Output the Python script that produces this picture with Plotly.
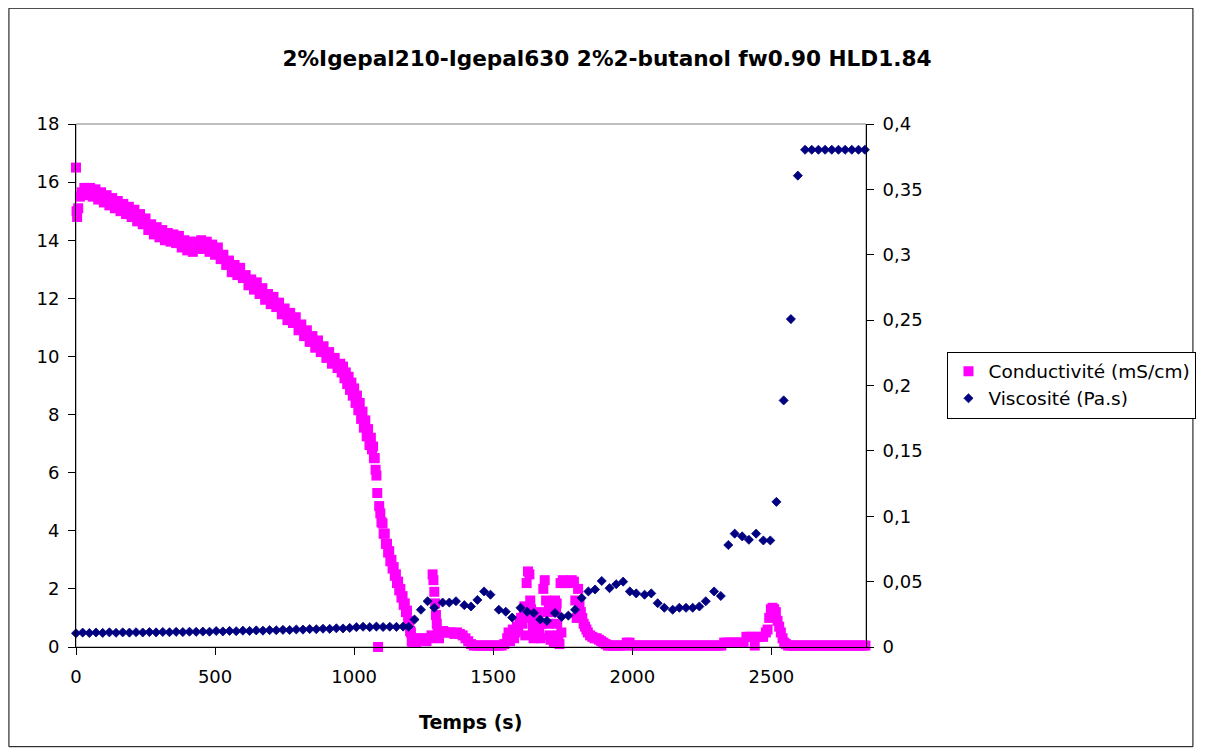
import plotly.graph_objects as go

# ---------------- data ----------------
title_text = "2%Igepal210-Igepal630 2%2-butanol fw0.90 HLD1.84"
x_title = "Temps (s)"
cond_name = "Conductivité (mS/cm)"
visc_name = "Viscosité (Pa.s)"

x_tickvals = [0, 500, 1000, 1500, 2000, 2500]
y_tickvals = [0, 2, 4, 6, 8, 10, 12, 14, 16, 18]
y2_tickvals = [0, 0.05, 0.1, 0.15, 0.2, 0.25, 0.3, 0.35, 0.4]
y2_ticktext = ["0", "0,05", "0,1", "0,15", "0,2", "0,25", "0,3", "0,35", "0,4"]

# Conductivity (mS/cm) vs time (s)
cond_t = [
    0, 2, 4, 8, 14, 20,
    30, 40, 50, 60, 70, 80, 90, 100, 110, 120, 130, 140, 150, 160, 170, 180, 190, 200,
    210, 220, 230, 240, 250, 260, 270, 280, 290, 300, 310, 320, 330, 340, 350, 360,
    370, 380, 390, 400, 410, 420, 430, 440, 450, 460, 470, 480, 490, 500, 510, 520,
    530, 540, 550, 560, 570, 580, 590, 600, 610, 620, 630, 640, 650, 660, 670, 680,
    690, 700, 710, 720, 730, 740, 750, 760, 770, 780, 790, 800, 810, 820, 830, 840,
    850, 860, 870, 880, 890, 900, 910, 920, 930, 940,
    950, 955, 960, 965, 970, 975, 980, 985, 990, 995, 1000, 1005, 1010, 1015, 1020, 1025,
    1030, 1035, 1040, 1045, 1050, 1055, 1060, 1064, 1068, 1071, 1074, 1077, 1080, 1083,
    1086, 1090, 1094, 1098, 1102, 1106, 1110, 1114, 1118, 1122, 1126, 1130, 1134, 1138,
    1142, 1146, 1150, 1154, 1158, 1162, 1166, 1170, 1174, 1178, 1182, 1186, 1190, 1194,
    1198, 1201, 1204, 1207, 1210, 1216, 1224, 1232, 1240, 1250,
    1260, 1270, 1278, 1282, 1285, 1288, 1291, 1294, 1297, 1300, 1305, 1310, 1320, 1330,
    1340, 1350, 1360, 1370, 1380, 1390, 1400, 1410, 1420, 1430, 1440, 1450, 1460, 1470,
    1480, 1490, 1500, 1510, 1520, 1530, 1540, 1550, 1555, 1560, 1565, 1570, 1575, 1580,
    1585, 1590, 1595, 1600, 1605, 1610, 1612, 1615, 1620, 1625, 1630, 1633, 1636, 1639, 1642,
    1645, 1648, 1650, 1655, 1660, 1665, 1670, 1675, 1680, 1685, 1690, 1694, 1698, 1700, 1702, 1706,
    1712, 1718, 1722, 1726, 1728, 1730, 1734, 1738, 1742, 1745, 1750, 1758, 1766, 1774, 1782,
    1790, 1795, 1800, 1805, 1810, 1815, 1820, 1825, 1830, 1835, 1840, 1848, 1856, 1864,
    1872, 1880, 1888, 1896, 1904, 1912, 1920, 1930, 1940, 1950, 1960, 1970, 1980, 1990,
    2000, 2010, 2020, 2030, 2040, 2050, 2060, 2070, 2080, 2090, 2100, 2110, 2120, 2130,
    2140, 2150, 2160, 2170, 2180, 2190, 2200, 2210, 2220, 2230, 2240, 2250, 2260, 2270,
    2280, 2290, 2300, 2310, 2320, 2330, 2340, 2350, 2360, 2370, 2380, 2390, 2400, 2410,
    2420, 2430, 2440, 2450, 2460, 2470, 2480, 2486, 2492, 2498, 2504, 2510, 2516, 2522,
    2528, 2534, 2540, 2546, 2552, 2560, 2570, 2580, 2590, 2600, 2610, 2620, 2630, 2640,
    2650, 2660, 2670, 2680, 2690, 2700, 2710, 2720, 2730, 2740, 2750, 2760, 2770, 2780,
    2790, 2800, 2810, 2820, 2830, 2838,
]
cond_v = [
    16.5, 15.0, 14.8, 15.1, 15.5, 15.65,
    15.8, 15.55, 15.8, 15.5, 15.75, 15.4, 15.65, 15.3, 15.55, 15.2, 15.45, 15.1, 15.35, 15.0, 15.25, 14.9, 15.15, 14.8,
    15.05, 14.65, 14.9, 14.55, 14.75, 14.35, 14.55, 14.2, 14.45, 14.1, 14.35, 14.0, 14.25, 13.95, 14.2, 13.9,
    14.15, 13.75, 14.0, 13.65, 13.95, 13.6, 13.95, 13.7, 14.0, 13.7, 13.95, 13.6, 13.85, 13.5, 13.75, 13.35,
    13.5, 13.15, 13.3, 12.9, 13.15, 12.8, 13.05, 12.7, 12.8, 12.45, 12.65, 12.3, 12.55, 12.15, 12.35, 11.95,
    12.15, 11.8, 12.05, 11.7, 11.85, 11.45, 11.65, 11.25, 11.5, 11.15, 11.35, 10.9, 11.1, 10.7, 10.9, 10.5,
    10.7, 10.3, 10.55, 10.15, 10.35, 9.95, 10.15, 9.75, 9.95, 9.6,
    9.75, 9.45, 9.65, 9.25, 9.45, 9.05, 9.3, 8.85, 9.1, 8.65, 8.9, 8.4, 8.65, 8.15, 8.4, 7.85,
    8.1, 7.55, 7.8, 7.25, 7.5, 6.95, 7.2, 6.8, 6.9, 6.5, 6.5, 6.1, 5.9, 5.3,
    0.0, 4.85, 4.6, 4.3, 4.25, 3.9, 3.9, 3.55, 3.55, 3.25, 3.3, 2.95, 3.0, 2.7,
    2.75, 2.45, 2.5, 2.2, 2.25, 1.95, 2.0, 1.7, 1.75, 1.45, 1.5, 1.2, 1.25, 0.9,
    0.9, 0.55, 0.5, 0.2, 0.15, 0.3, 0.15, 0.3, 0.25, 0.3,
    0.2, 0.3, 0.4, 2.5, 2.3, 1.9, 1.5, 1.1, 0.8, 0.5, 0.3, 0.5, 0.55, 0.5,
    0.5, 0.5, 0.45, 0.5, 0.45, 0.4, 0.3, 0.2, 0.1, 0.05, 0.05, 0.05, 0.05, 0.05,
    0.05, 0.05, 0.05, 0.05, 0.05, 0.05, 0.1, 0.3, 0.5, 0.2, 0.4, 0.6, 0.3, 0.5,
    0.7, 0.6, 0.9, 1.0, 0.8, 1.1, 1.4, 0.4, 2.2, 2.6, 2.5, 1.6, 1.3, 1.0, 0.7,
    0.3, 1.1, 0.6, 0.9, 1.2, 0.5, 0.3, 0.8, 2.0, 2.3, 1.6, 1.2, 0.8, 1.4, 0.4, 0.25,
    0.3, 0.15, 1.6, 1.2, 1.5, 0.8, 0.4, 0.1, 2.2, 0.5, 2.3, 2.2, 2.25, 2.2, 2.3,
    2.25, 1.6, 1.0, 2.0, 1.5, 1.2, 1.0, 0.8, 0.7, 0.6, 0.5, 0.4, 0.35, 0.3,
    0.3, 0.25, 0.2, 0.15, 0.1, 0.05, 0.05, 0.05, 0.05, 0.05, 0.05, 0.05, 0.15, 0.15,
    0.05, 0.05, 0.05, 0.05, 0.05, 0.05, 0.05, 0.05, 0.05, 0.05, 0.05, 0.05, 0.05, 0.05,
    0.05, 0.05, 0.05, 0.05, 0.05, 0.05, 0.05, 0.05, 0.05, 0.05, 0.05, 0.05, 0.05, 0.05,
    0.05, 0.05, 0.05, 0.05, 0.05, 0.15, 0.15, 0.15, 0.15, 0.15, 0.15, 0.15, 0.15, 0.35,
    0.35, 0.35, 0.05, 0.35, 0.35, 0.35, 0.5, 0.6, 1.0, 1.3, 1.35, 1.3, 1.2, 0.9,
    0.7, 0.5, 0.3, 0.15, 0.1, 0.05, 0.05, 0.05, 0.05, 0.05, 0.05, 0.05, 0.05, 0.05,
    0.05, 0.05, 0.05, 0.05, 0.05, 0.05, 0.05, 0.05, 0.05, 0.05, 0.05, 0.05, 0.05, 0.05,
    0.05, 0.05, 0.05, 0.05, 0.05, 0.05,
]

# Viscosity (Pa.s) vs time (s)
visc_t = [
    0, 24, 48, 72, 96, 120, 144, 168, 192, 216, 240, 264, 288, 312, 336, 360, 384, 408,
    432, 456, 480, 504, 528, 552, 576, 600, 624, 648, 672, 696, 720, 744, 768, 792, 816,
    840, 864, 888, 912, 936, 960, 984, 1008, 1032, 1056, 1080, 1104, 1128, 1152, 1176,
    1196, 1217, 1240, 1264, 1288, 1318, 1342, 1366, 1396, 1420, 1443, 1467, 1490, 1520,
    1545, 1568, 1598, 1622, 1646, 1669, 1693, 1722, 1746, 1770, 1794, 1818, 1842, 1866,
    1890, 1918, 1942, 1967, 1991, 2014, 2044, 2068, 2091, 2115, 2145, 2169, 2193, 2217,
    2241, 2264, 2294, 2318, 2345, 2368, 2395, 2419, 2445, 2471, 2496, 2518, 2544, 2570,
    2595, 2621, 2645, 2669, 2693, 2717, 2741, 2765, 2789, 2813, 2836,
]
visc_v = [
    0.0105, 0.0110, 0.0107, 0.0111, 0.0108, 0.0112, 0.0109, 0.0112, 0.0110, 0.0113,
    0.0111, 0.0114, 0.0112, 0.0115, 0.0113, 0.0116, 0.0114, 0.0117, 0.0116, 0.0118,
    0.0117, 0.0122, 0.0119, 0.0123, 0.0121, 0.0125, 0.0123, 0.0127, 0.0125, 0.0129,
    0.0128, 0.0131, 0.0130, 0.0134, 0.0133, 0.0137, 0.0136, 0.0140, 0.0139, 0.0143,
    0.0142, 0.0146, 0.0152, 0.0155, 0.0152, 0.0156, 0.0153, 0.0155, 0.0154, 0.0156,
    0.0155, 0.0210, 0.0285, 0.0350, 0.0300, 0.0340, 0.0340, 0.0350, 0.0320, 0.0310,
    0.0360, 0.0425, 0.0400, 0.0285, 0.0270, 0.0225, 0.0300, 0.0270, 0.0260, 0.0210,
    0.0200, 0.0260, 0.0230, 0.0240, 0.0285, 0.0375, 0.0425, 0.0440, 0.0505, 0.0450,
    0.0480, 0.0500, 0.0425, 0.0410, 0.0400, 0.0410, 0.0335, 0.0300, 0.0285, 0.0300,
    0.0300, 0.0300, 0.0310, 0.0350, 0.0425, 0.0390, 0.0780, 0.0867, 0.0846, 0.0820,
    0.0867, 0.0815, 0.0815, 0.1110, 0.1886, 0.2508, 0.3605, 0.3803, 0.3803, 0.3803,
    0.3803, 0.3803, 0.3803, 0.3803, 0.3803, 0.3803, 0.3803,
]

# ---------------- figure ----------------
# The page body adds an 8 px offset, so the figure is 1200x747 and sits at (8, 8).
W, H = 1200, 747
L, T, R, B = 68, 116, 337, 108
PW, PH = W - L - R, H - T - B

FONT = "DejaVu Sans, Liberation Sans, Arial, sans-serif"
fig = go.Figure()

fig.add_trace(go.Scatter(
    x=cond_t, y=cond_v, name=cond_name, mode="markers",
    marker=dict(symbol="square", size=10, color="#FF00FF", line=dict(width=0)),
    cliponaxis=False, xaxis="x", yaxis="y",
))
fig.add_trace(go.Scatter(
    x=visc_t, y=visc_v, name=visc_name, mode="markers",
    marker=dict(symbol="diamond", size=7, color="#000080", line=dict(width=0.8, color="#000080")),
    cliponaxis=False, xaxis="x", yaxis="y2",
))

tickfont = dict(family=FONT, size=18, color="black")
common = dict(showgrid=False, zeroline=False, showline=True, linecolor="black", linewidth=1,
              ticks="outside", ticklen=7, tickwidth=1, tickcolor="black", tickfont=tickfont)
inside = dict(ticks="inside", ticklen=7, tickwidth=1, tickcolor="black", showticklabels=False,
              showgrid=False, zeroline=False, showline=False)

fig.update_layout(
    width=W, height=H,
    margin=dict(l=L, r=R, t=T, b=B),
    paper_bgcolor="white", plot_bgcolor="white",
    title=dict(text="<b>" + title_text + "</b>", x=(607 - 8) / W, xref="container", xanchor="center",
               y=1 - 50 / H, yref="container", yanchor="middle",
               font=dict(family=FONT, size=21.6, color="black")),
    xaxis=dict(range=[0, 2840], tickvals=x_tickvals, ticklabelstandoff=6, **common),
    yaxis=dict(range=[0, 18], tickvals=y_tickvals, ticklabelstandoff=5, **common),
    yaxis2=dict(range=[0, 0.4], tickvals=y2_tickvals, ticktext=y2_ticktext,
                overlaying="y", side="right", anchor="x", ticklabelstandoff=5, **common),
    xaxis3=dict(range=[0, 2840], tickvals=x_tickvals, overlaying="x", anchor="y", side="bottom", **inside),
    yaxis3=dict(range=[0, 18], tickvals=y_tickvals, overlaying="y", anchor="x", side="left", **inside),
    yaxis4=dict(range=[0, 0.4], tickvals=y2_tickvals, overlaying="y", anchor="x", side="right", **inside),
    legend=dict(x=(953 - 8 - L) / PW, y=(639.3 - (352 - 8)) / PH, xanchor="left", yanchor="top",
                bordercolor="black", borderwidth=1, bgcolor="white",
                font=dict(family=FONT, size=18.5, color="black"),
                itemwidth=30, tracegroupgap=0),
    showlegend=True,
)

# axis title
fig.add_annotation(text="<b>" + x_title + "</b>", xref="paper", yref="paper",
                   x=(473 - 8 - L) / PW, y=(639.3 - (722 - 8)) / PH, xanchor="center", yanchor="middle",
                   showarrow=False, font=dict(family=FONT, size=19, color="black"))

# plot area border (gray) and outer chart border (black)
fig.add_shape(type="rect", xref="paper", yref="paper", x0=0, y0=0, x1=1, y1=1,
              line=dict(color="#808080", width=1), layer="below")
fig.add_shape(type="rect", xref="paper", yref="paper",
              x0=(0.5 - L) / PW, x1=(1192 - L) / PW,
              y0=(639.3 - 739) / PH, y1=(639.3 - 0.5) / PH,
              line=dict(color="black", width=1), layer="below")

fig.write_html("out.html")
